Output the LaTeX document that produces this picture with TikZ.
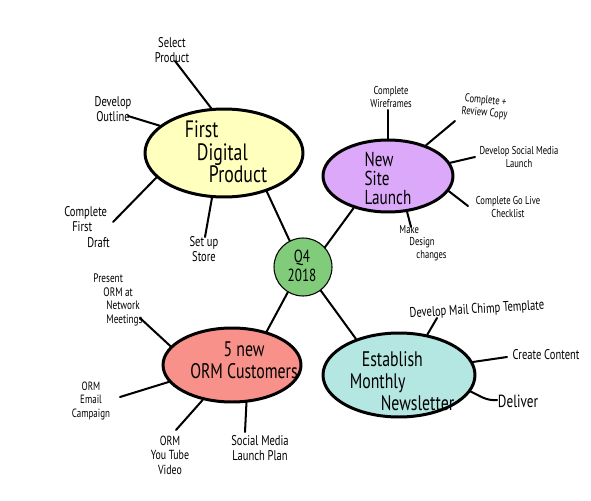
\documentclass[tikz,border=0pt]{standalone}
\usepackage{fontspec}
\newfontfamily\hand[FakeStretch=0.75]{PT Sans}
\usetikzlibrary{shapes.geometric}
\definecolor{fdpfill}{RGB}{255,255,190}
\definecolor{nslfill}{RGB}{220,168,250}
\definecolor{ormfill}{RGB}{247,145,138}
\definecolor{emnfill}{RGB}{180,230,226}
\definecolor{qfill}{RGB}{128,204,122}
\begin{document}
\begin{tikzpicture}[x=0.02cm,y=-0.02cm,
  bubble/.style={ellipse, draw=black, line width=1.7pt, inner sep=0pt},
  spoke/.style={line width=1.15pt, line cap=round},
  smalltxt/.style={font=\hand\fontsize{8}{8.8}\selectfont, align=center, inner sep=0pt},
  tinytxt/.style={font=\hand\fontsize{6.5}{7.2}\selectfont, align=center, inner sep=0pt},
  titletxt/.style={align=left, inner sep=0pt}]
\useasboundingbox (0,0) rectangle (591,500);
\fill[white] (0,0) rectangle (591,500);
% main bubbles
\node[bubble, fill=fdpfill, minimum width=3.16cm, minimum height=1.76cm] (fdp) at (224,153) {};
\node[bubble, fill=nslfill, minimum width=2.6cm, minimum height=1.44cm] (nsl) at (388,176) {};
\node[bubble, fill=ormfill, minimum width=2.76cm, minimum height=1.48cm] (orm) at (232,365) {};
\node[bubble, fill=emnfill, minimum width=3.04cm, minimum height=1.68cm] (emn) at (399,375) {};
\node[circle, draw=black, line width=0.6pt, fill=qfill, minimum size=1.16cm, inner sep=0pt] (q4) at (303,267) {};
% bubble texts
\node[titletxt, font=\hand\fontsize{13.5}{12.8}\selectfont] (fdpT) at (226,152) {First\\\hspace*{0.24cm}Digital\\\hspace*{0.48cm}Product};
\node[titletxt, font=\hand\fontsize{11.5}{10.8}\selectfont] (nslT) at (388,178) {New\\Site\\Launch};
\node[align=center, inner sep=0pt, font=\hand\fontsize{12}{12.5}\selectfont] (ormT) at (244,360) {5 new\\ORM Customers};
\node[titletxt, font=\hand\fontsize{12}{12.5}\selectfont] (emnT) at (402,381) {\hspace*{0.24cm}Establish\\Monthly\\\hspace*{0.62cm}Newsletter};
\node[align=center, inner sep=0pt, font=\hand\fontsize{10}{10.5}\selectfont] (q4T) at (302,266) {Q4\\2018};
% spoke labels: First Digital Product
\node[smalltxt] (sel) at (172,50) {Select\\Product};
\node[smalltxt] (outl) at (113,109) {Develop\\Outline};
\node[smalltxt, align=left] (draft) at (87,227) {Complete\\\hspace*{0.16cm}First\\\hspace*{0.46cm}Draft};
\node[smalltxt] (store) at (204,249) {Set up\\Store};
% New Site Launch
\node[tinytxt] (wire) at (391,97) {Complete\\Wireframes};
\node[tinytxt, rotate=-5] (rev) at (485,107) {Complete +\\Review Copy};
\node[tinytxt] (soc) at (519,157) {Develop Social Media\\Launch};
\node[tinytxt] (live) at (508,207) {Complete Go Live\\Checklist};
\node[tinytxt, align=left] (des) at (423,243) {Make\\\hspace*{0.2cm}Design\\\hspace*{0.34cm}changes};
% ORM Customers
\node[tinytxt, align=left, font=\hand\fontsize{7}{7.8}\selectfont] (pres) at (118,300) {Present\\\hspace*{0.2cm}ORM at\\\hspace*{0.26cm}Network\\\hspace*{0.26cm}Meetings};
\node[tinytxt, font=\hand\fontsize{6.8}{7.6}\selectfont] (email) at (91,401) {ORM\\Email\\Campaign};
\node[smalltxt, font=\hand\fontsize{7.5}{8.3}\selectfont] (yt) at (170,455) {ORM\\You Tube\\Video};
\node[smalltxt] (smlp) at (260,448) {Social Media\\Launch Plan};
% Newsletter
\node[smalltxt, rotate=3.5] (mc) at (477,310) {Develop Mail Chimp Template};
\node[smalltxt] (cc) at (546,355) {Create Content};
\node[smalltxt, font=\hand\fontsize{10}{10}\selectfont] (del) at (518,401) {Deliver};
% free ends of spokes
\coordinate (selE) at (175,61);
\coordinate (outE) at (128,116);
\coordinate (draftE) at (113,222);
\coordinate (storeE) at (205,237);
\coordinate (wireE) at (388,110);
\coordinate (revE) at (455,121);
\coordinate (socE) at (475,157);
\coordinate (liveE) at (468,206);
\coordinate (desE) at (411,227);
\coordinate (presE) at (140,318);
\coordinate (emailE) at (120,397);
\coordinate (ytE) at (176,430);
\coordinate (smlpE) at (245,432);
\coordinate (mcE) at (437,318);
\coordinate (ccE) at (507,357);
\coordinate (delE) at (497,400);
% centre connectors
\draw[spoke] (fdp.318) -- (q4.117);
\draw[spoke] (nsl.223) -- (q4.42);
\draw[spoke] (orm.44) -- (q4.239);
\draw[spoke] (emn.140) -- (q4.307);
% spokes
\draw[spoke] (fdp.106) -- (selE);
\draw[spoke] (fdp.157) -- (outE);
\draw[spoke] (fdp.200) -- (draftE);
\draw[spoke] (fdp.255) -- (storeE);
\draw[spoke] (nsl.90) -- (wireE);
\draw[spoke] (nsl.39) -- (revE);
\draw[spoke] (nsl.12) -- (socE);
\draw[spoke] (nsl.346) -- (liveE);
\draw[spoke] (nsl.298) -- (desE);
\draw[spoke] (orm.163) -- (presE);
\draw[spoke] (orm.195) -- (emailE);
\draw[spoke] (orm.230) -- (ytE);
\draw[spoke] (orm.291) -- (smlpE);
\draw[spoke] (emn.55) -- (mcE);
\draw[spoke] (emn.10) -- (ccE);
\draw[spoke] (emn.347) to[out=-25, in=185] (delE);
\end{tikzpicture}
\end{document}
